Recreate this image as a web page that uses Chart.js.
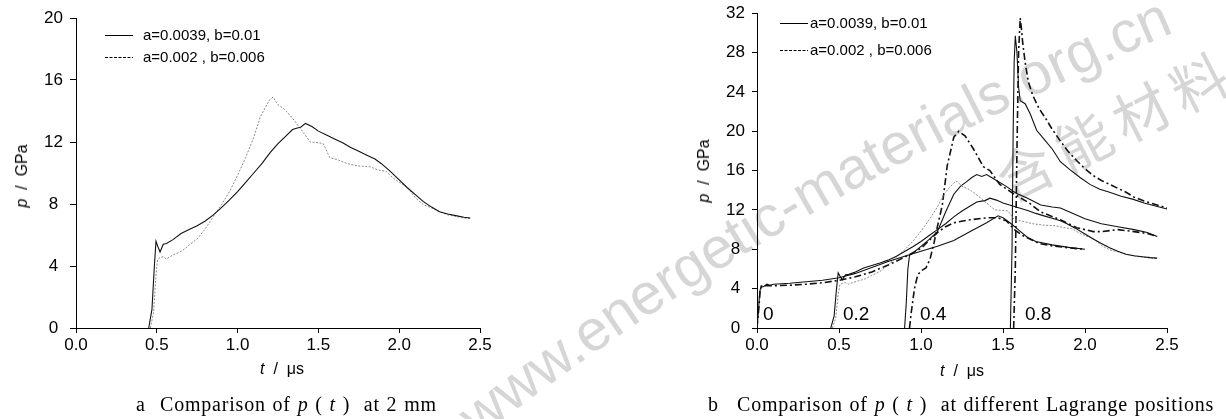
<!DOCTYPE html>
<html>
<head>
<meta charset="utf-8">
<script src="https://cdn.jsdelivr.net/npm/chart.js@4.4.0/dist/chart.umd.min.js"></script>
<style>
  body { margin: 0; background: #fff; width: 1226px; height: 419px; overflow: hidden; position: relative;
         font-family: "Liberation Sans", Arial, sans-serif; color: #000; }
  .box { position: absolute; z-index: 1; }
  .wm { position: absolute; left: 0; top: 0; z-index: 0; }
  .ytitle { position: absolute; z-index: 2; transform: translate(-50%, -50%) rotate(-90deg); white-space: pre; font-size: 16px; }
  .xtitle { position: absolute; z-index: 2; transform: translate(-50%, -50%); white-space: pre; font-size: 16px; }
  .leg { position: absolute; z-index: 2; font-size: 15px; line-height: 16px; white-space: pre; }
  .leg svg { position: absolute; top: 0; }
  .cap { position: absolute; z-index: 2; font-family: "Liberation Serif", serif; font-size: 20px; line-height: 20px;
         letter-spacing: 0.8px; word-spacing: 1px; white-space: pre; }
</style>
</head>
<body>

<svg class="wm" width="1226" height="419">
  <path id="wmPath" d="M 470 445 Q 800 187 1215 15" fill="none"/>
  <text font-family="Liberation Sans" font-size="58" fill="#d6d6d6"><textPath href="#wmPath" startOffset="10">www.energetic-materials.org.cn</textPath></text>
  <text transform="translate(1010,203) rotate(-27)" font-family="Noto Sans CJK SC" font-size="56" fill="#d6d6d6" letter-spacing="9">含能材料</text>
</svg>

<div class="box" style="left:0px; top:0px;"><canvas id="chartA" width="500" height="380"></canvas></div>
<div class="box" style="left:700px; top:-4px;"><canvas id="chartB" width="526" height="384"></canvas></div>

<div class="ytitle" style="left:22px; top:176px;"><i>p</i>  /  GPa</div>
<div class="ytitle" style="left:704px; top:171px;"><i>p</i>  /  GPa</div>
<div class="xtitle" style="left:282px; top:369px;"><i>t</i>  /  μs</div>
<div class="xtitle" style="left:962px; top:371px;"><i>t</i>  /  μs</div>

<div id="legA1" class="leg" style="left:105px; top:27px;"></div>
<div id="legA2" class="leg" style="left:105px; top:49px;"></div>
<div id="legB1" class="leg" style="left:780px; top:15px;"></div>
<div id="legB2" class="leg" style="left:780px; top:42px;"></div>

<div class="cap" style="left:136px; top:394px;">a</div>
<div class="cap" style="left:160px; top:394px;">Comparison of <i>p</i> ( <i>t</i> )  at 2 mm</div>
<div class="cap" style="left:708px; top:394px;">b</div>
<div class="cap" style="left:737px; top:394px;">Comparison of <i>p</i> ( <i>t</i> )  at different Lagrange positions</div>

<script>
// 2 mm / Lagrange position 0.2 (a=0.0039, b=0.01)
const t02Solid = [0.45, 0.47, 0.485, 0.495, 0.505, 0.52, 0.54, 0.56, 0.60, 0.65, 0.70, 0.75, 0.80, 0.85, 0.90, 0.95, 1.00, 1.05, 1.10, 1.15,
                  1.20, 1.25, 1.30, 1.34, 1.37, 1.39, 1.42, 1.46, 1.50, 1.55, 1.60, 1.65, 1.70, 1.75, 1.80, 1.85, 1.89, 1.94, 2.00, 2.05,
                  2.10, 2.15, 2.20, 2.25, 2.30, 2.35, 2.40, 2.44];
const p02Solid = [0, 1.2, 4.0, 5.6, 5.3, 4.9, 5.4, 5.45, 5.7, 6.1, 6.35, 6.6, 6.9, 7.3, 7.77, 8.26, 8.8, 9.4, 10.0, 10.6,
                  11.3, 11.9, 12.4, 12.8, 12.9, 12.95, 13.2, 13.0, 12.7, 12.45, 12.2, 11.95, 11.65, 11.4, 11.15, 10.9, 10.6, 10.15, 9.55, 9.05,
                  8.6, 8.15, 7.8, 7.5, 7.35, 7.25, 7.15, 7.1];
// 2 mm / position 0.2 (a=0.002, b=0.006)
const t02Dash = [0.46, 0.48, 0.495, 0.505, 0.52, 0.54, 0.56, 0.58, 0.62, 0.66, 0.70, 0.75, 0.80, 0.85, 0.90, 0.95, 1.00, 1.05, 1.10, 1.14,
                 1.17, 1.20, 1.22, 1.25, 1.28, 1.31, 1.35, 1.40, 1.45, 1.50, 1.53, 1.57, 1.62, 1.68, 1.75, 1.82, 1.87, 1.92, 1.96, 2.00,
                 2.05, 2.10, 2.15, 2.20, 2.25, 2.30, 2.35, 2.40, 2.44];
const p02Dash = [0, 1.0, 3.4, 4.4, 4.55, 4.6, 4.45, 4.6, 4.8, 5.0, 5.35, 5.75, 6.4, 7.2, 7.95, 8.8, 9.85, 11.0, 12.3, 13.6,
                 14.2, 14.75, 14.9, 14.4, 14.2, 13.9, 13.4, 12.7, 12.0, 11.95, 11.9, 11.0, 10.85, 10.6, 10.45, 10.4, 10.2, 10.1, 9.7, 9.4,
                 9.1, 8.4, 7.95, 7.75, 7.5, 7.3, 7.2, 7.1, 7.05];

// position 0
const t0Solid = [0, 0.008, 0.016, 0.025, 0.04, 0.06, 0.08, 0.1, 0.2, 0.3, 0.4, 0.5, 0.6, 0.7, 0.8, 0.9, 1.0, 1.1, 1.2, 1.3,
                 1.4, 1.47, 1.5, 1.55, 1.6, 1.65, 1.7, 1.8, 1.9, 2.0];
const p0Solid = [0, 1.5, 3.6, 4.3, 4.2, 4.45, 4.35, 4.45, 4.55, 4.7, 4.85, 5.1, 5.55, 6.15, 6.75, 7.3, 7.8, 8.3, 8.9, 9.8,
                 10.7, 11.4, 11.2, 10.6, 9.9, 9.2, 8.8, 8.45, 8.2, 8.0];
const t0Dash = [0, 0.01, 0.02, 0.03, 0.05, 0.1, 0.2, 0.3, 0.4, 0.5, 0.6, 0.7, 0.8, 0.9, 1.0, 1.05, 1.1, 1.15, 1.2, 1.3,
                1.4, 1.47, 1.52, 1.57, 1.62, 1.67, 1.72, 1.8, 1.9, 2.0];
const p0Dash = [0, 1.8, 3.9, 4.2, 4.3, 4.3, 4.35, 4.45, 4.6, 4.85, 5.2, 5.7, 6.4, 7.2, 8.1, 8.9, 9.7, 10.3, 10.7, 11.0,
                11.2, 11.2, 10.9, 10.0, 9.4, 9.0, 8.6, 8.35, 8.15, 8.0];

// position 0.4
const t04Solid = [0.90, 0.91, 0.92, 0.93, 0.95, 1.00, 1.05, 1.10, 1.15, 1.20, 1.24, 1.28, 1.31, 1.34, 1.37, 1.40, 1.43, 1.46, 1.52, 1.58,
                  1.65, 1.73, 1.80, 1.85, 1.92, 2.00, 2.10, 2.20, 2.30, 2.38, 2.44];
const p04Solid = [0, 2.5, 6.0, 7.4, 7.6, 8.3, 9.0, 9.8, 11.8, 13.6, 14.4, 14.9, 15.3, 15.6, 15.4, 15.6, 15.3, 15.0, 14.4, 13.7,
                  13.2, 12.5, 12.3, 12.2, 11.7, 11.1, 10.6, 10.3, 10.0, 9.7, 9.3];
const t04Dash = [0.93, 0.94, 0.96, 0.98, 1.00, 1.03, 1.055, 1.08, 1.10, 1.13, 1.16, 1.20, 1.23, 1.27, 1.32, 1.38, 1.42, 1.48, 1.56, 1.66,
                 1.73, 1.85, 1.95, 2.05, 2.10, 2.20, 2.30, 2.38, 2.44];
const p04Dash = [0, 1.5, 4.0, 5.4, 5.8, 6.1, 7.0, 8.7, 10.3, 12.5, 16.5, 19.4, 20.0, 19.5, 18.2, 16.4, 16.0, 14.6, 13.7, 12.7,
                 11.8, 11.0, 10.2, 9.8, 9.8, 10.0, 9.8, 9.6, 9.3];

// position 0.8
const t08Solid = [1.545, 1.555, 1.562, 1.568, 1.575, 1.585, 1.595, 1.605, 1.635, 1.665, 1.705, 1.75, 1.80, 1.85, 1.90, 1.97, 2.03, 2.09, 2.15, 2.22,
                  2.29, 2.36, 2.43, 2.50];
const p08Solid = [0, 8, 20, 27, 29.7, 28, 24.5, 23.1, 22.8, 21.8, 20.1, 19.2, 18.2, 16.9, 16.2, 15.3, 14.6, 14.1, 13.8, 13.4,
                  13.1, 12.7, 12.4, 12.1];
const t08Dash = [1.565, 1.575, 1.585, 1.595, 1.605, 1.612, 1.62, 1.635, 1.655, 1.68, 1.72, 1.76, 1.80, 1.85, 1.90, 1.95, 2.00, 2.05, 2.10, 2.15,
                 2.20, 2.25, 2.30, 2.36, 2.42, 2.50];
const p08Dash = [0, 6, 18, 28, 31.5, 30.5, 29, 27, 25, 23.7, 22.3, 21.3, 20.2, 19.0, 17.9, 17.0, 16.2, 15.5, 15.0, 14.6,
                 14.2, 13.8, 13.3, 12.9, 12.6, 12.2];

const legendLabels = ['a=0.0039, b=0.01', 'a=0.002 , b=0.006'];
const posLabels = ['0', '0.2', '0.4', '0.8'];
const posLabelT = [0.037, 0.524, 0.994, 1.634];
const posLabelP = 1.35;

const pts = (t, p) => t.map((x, i) => ({ x: x, y: p[i] }));

const solid = { borderColor: '#111', borderWidth: 1.1, borderDash: [] };
const dotted = { borderColor: '#8a8a8a', borderWidth: 1, borderDash: [2, 1.5] };
const dashDot = { borderColor: '#111', borderWidth: 1.6, borderDash: [7, 3, 2, 3] };

const tickFont = { family: '"Liberation Sans", Arial, sans-serif', size: 17 };

function makeChart(id, datasets, yMax, pad, yTickLen, yPad, extra) {
    return new Chart(document.getElementById(id), {
        type: 'line',
        data: { datasets: datasets },
        options: {
            responsive: false,
            animation: false,
            layout: { padding: pad },
            plugins: { legend: { display: false }, tooltip: { enabled: false } },
            elements: { point: { radius: 0 }, line: { tension: 0 } },
            scales: {
                x: {
                    type: 'linear', min: 0, max: 2.5,
                    ticks: { stepSize: 0.5, color: '#000', font: tickFont, padding: 2, maxRotation: 0,
                             callback: v => v.toFixed(1) },
                    grid: { drawOnChartArea: false, tickLength: 5, color: '#000' },
                    border: { color: '#000', width: 1 },
                    afterFit: s => { s.height = 30; }
                },
                y: {
                    min: 0, max: yMax,
                    ticks: { stepSize: 4, color: '#000', font: tickFont, padding: yPad, crossAlign: 'center' },
                    grid: { drawOnChartArea: false, tickLength: yTickLen, color: '#000' },
                    border: { color: '#000', width: 1 },
                    afterFit: s => { s.width = 40; }
                }
            }
        },
        plugins: extra || []
    });
}

makeChart('chartA', [
    Object.assign({ label: legendLabels[0], data: pts(t02Solid, p02Solid) }, solid),
    Object.assign({ label: legendLabels[1], data: pts(t02Dash, p02Dash) }, dotted)
], 20, { top: 18, left: 36, right: 20, bottom: 22 }, 6, 7);

const posLabelPlugin = {
    id: 'posLabels',
    afterDatasetsDraw(chart) {
        const { ctx, scales: { x, y } } = chart;
        ctx.save();
        ctx.font = '19px "Liberation Sans", Arial, sans-serif';
        ctx.fillStyle = '#000';
        ctx.textBaseline = 'middle';
        posLabels.forEach((s, i) => {
            ctx.fillText(s, x.getPixelForValue(posLabelT[i]), y.getPixelForValue(posLabelP));
        });
        ctx.restore();
    }
};

makeChart('chartB', [
    Object.assign({ label: legendLabels[0], data: pts(t0Solid, p0Solid) }, solid),
    Object.assign({ label: legendLabels[1], data: pts(t0Dash, p0Dash) }, dashDot),
    Object.assign({ label: legendLabels[0], data: pts(t02Solid, p02Solid) }, solid),
    Object.assign({ label: legendLabels[1], data: pts(t02Dash, p02Dash) }, dotted),
    Object.assign({ label: legendLabels[0], data: pts(t04Solid, p04Solid) }, solid),
    Object.assign({ label: legendLabels[1], data: pts(t04Dash, p04Dash) }, dashDot),
    Object.assign({ label: legendLabels[0], data: pts(t08Solid, p08Solid) }, solid),
    Object.assign({ label: legendLabels[1], data: pts(t08Dash, p08Dash) }, dashDot)
], 32, { top: 12, left: 17, right: 59, bottom: 22 }, 5, 7, [posLabelPlugin]);

// legends (line sample + text)
function legendRow(id, idx, dash) {
    const el = document.getElementById(id);
    el.innerHTML = '<svg width="30" height="16"><line x1="0" y1="8.5" x2="28" y2="8.5" stroke="#000" stroke-width="1"' +
        (dash ? ' stroke-dasharray="' + dash + '"' : '') + '/></svg>' +
        '<span style="margin-left:' + (id.startsWith('legA') ? 38 : 30) + 'px">' + legendLabels[idx] + '</span>';
}
legendRow('legA1', 0, null);
legendRow('legA2', 1, '3,1.5');
legendRow('legB1', 0, null);
legendRow('legB2', 1, '3,1.5');
</script>
</body>
</html>
